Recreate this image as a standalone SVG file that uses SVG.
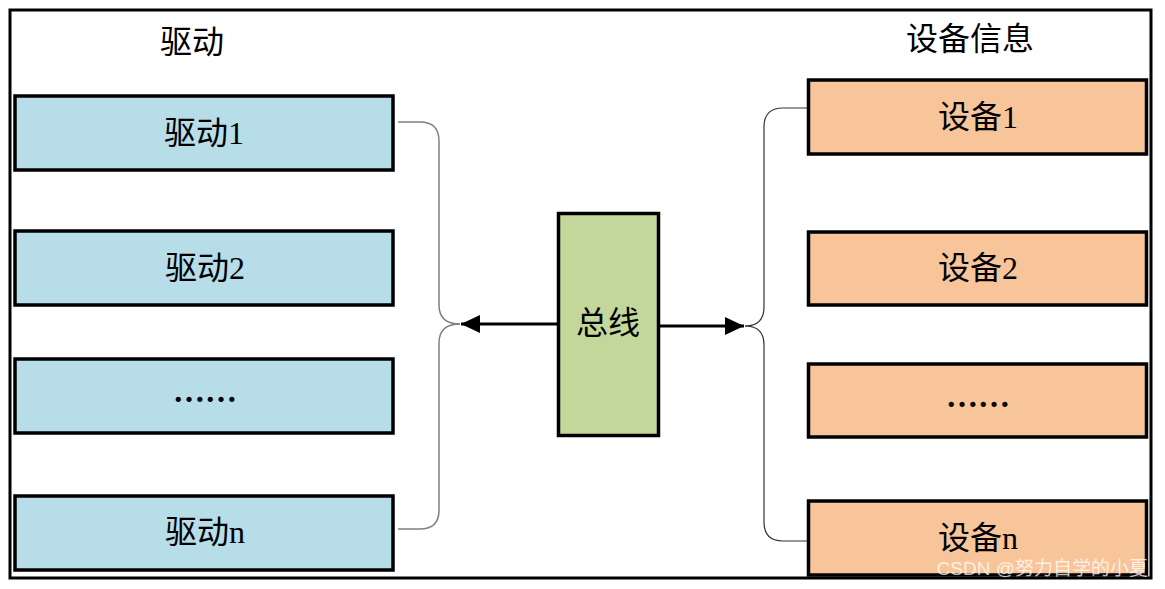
<svg xmlns="http://www.w3.org/2000/svg" width="1165" height="589" viewBox="0 0 1165 589">
<style>
.t{font-family:"Liberation Serif","Noto Sans CJK SC",serif;fill:#000;text-anchor:middle;dominant-baseline:central}
.drv{fill:#b7dde8;stroke:#000;stroke-width:3.5}
.dev{fill:#f8c49a;stroke:#000;stroke-width:3.5}
.bus{fill:#c4d79b;stroke:#000;stroke-width:3.5}
.lc{fill:none;stroke:#808080;stroke-width:1.5}
.rc{fill:none;stroke:#333;stroke-width:1.2}
.ar{stroke:#000;stroke-width:3}
</style>
<defs>
<marker id="ah" markerWidth="20" markerHeight="18" refX="19" refY="9" orient="auto" markerUnits="userSpaceOnUse">
<path d="M0,0 L19,9 L0,18 Z" fill="#000"/>
</marker>
</defs>
<rect x="0" y="0" width="1165" height="589" fill="#fff"/>
<rect x="10" y="10" width="1141" height="568" fill="none" stroke="#000" stroke-width="3"/>
<text class="t" x="192" y="42" font-size="32">驱动</text>
<text class="t" x="970" y="39" font-size="32">设备信息</text>
<g id="connectors">
<path class="lc" d="M398,122 H420 Q439,122 439,141 V305 Q439,324 460,324"/>
<path class="lc" d="M460,324 Q439,324 439,343 V510 Q439,529 420,529 H398"/>
<path class="rc" d="M808,108 H783 Q764,108 764,127 V307 Q764,326 745,326"/>
<path class="rc" d="M745,326 Q764,326 764,345 V522 Q764,541 783,541 H808"/>
<line class="ar" x1="558" y1="324" x2="461" y2="324" marker-end="url(#ah)"/>
<line class="ar" x1="658" y1="326" x2="744" y2="326" marker-end="url(#ah)"/>
</g>
<g id="drv1"><rect class="drv" x="15" y="96" width="378" height="74"/><text class="t" x="204" y="133" font-size="32">驱动1</text></g>
<g id="drv2"><rect class="drv" x="15" y="231" width="378" height="74"/><text class="t" x="205" y="268" font-size="32">驱动2</text></g>
<g id="drv3"><rect class="drv" x="15" y="359" width="378" height="74"/><text class="t" x="205" y="391" font-size="32" font-weight="bold">……</text></g>
<g id="drvn"><rect class="drv" x="15" y="496" width="378" height="74"/><text class="t" x="205" y="532" font-size="32">驱动n</text></g>
<g id="bus"><rect class="bus" x="558.5" y="213.5" width="100" height="222"/><text class="t" x="608" y="323" font-size="32">总线</text></g>
<g id="dev1"><rect class="dev" x="808.5" y="80" width="338" height="74"/><text class="t" x="978" y="117" font-size="32">设备1</text></g>
<g id="dev2"><rect class="dev" x="808.5" y="232" width="338" height="73"/><text class="t" x="978" y="268" font-size="32">设备2</text></g>
<g id="dev3"><rect class="dev" x="808.5" y="364" width="338" height="73"/><text class="t" x="978" y="396" font-size="32" font-weight="bold">……</text></g>
<g id="devn"><rect class="dev" x="808.5" y="501" width="338" height="74"/><text class="t" x="978" y="538" font-size="32">设备n</text></g>
<text x="1148" y="568" font-family="'Liberation Sans','Noto Sans CJK SC',sans-serif" font-size="19" fill="#ffffff" fill-opacity="0.75" text-anchor="end" dominant-baseline="central">CSDN @努力自学的小夏</text>
</svg>
